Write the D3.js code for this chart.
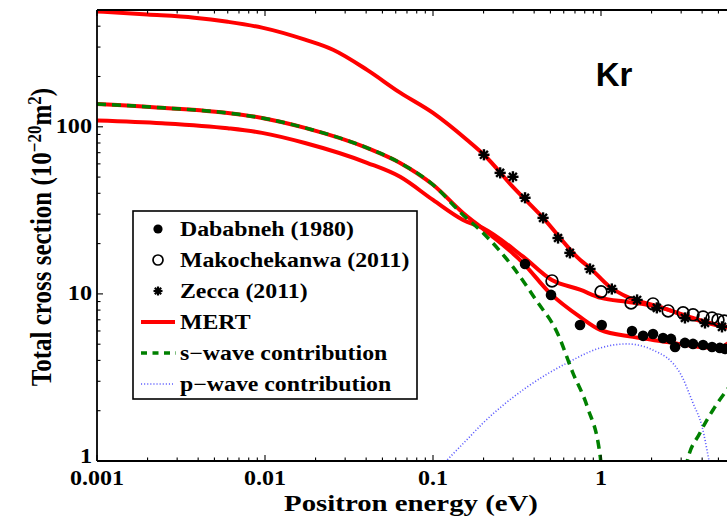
<!DOCTYPE html>
<html>
<head>
<meta charset="utf-8">
<script src="https://cdn.jsdelivr.net/npm/d3@7"></script>
<style>
  html, body { margin: 0; padding: 0; background: #fff; }
  svg { display: block; overflow: hidden; }
</style>
</head>
<body>
<svg id="chart" width="727" height="517"></svg>
<script>
// ---- Positron–Kr total cross sections (energy in eV, σ in 1e-20 m^2) ----

// Measurements
const dababnehE = [0.353, 0.504, 0.75, 1.01, 1.53, 1.78, 2.04, 2.34, 2.61, 2.76, 3.16, 3.53, 4.05, 4.58, 5.1, 5.45];
const dababnehS = [15.1, 9.86, 6.52, 6.52, 6.0, 5.61, 5.76, 5.45, 5.38, 4.81, 5.09, 5.02, 4.95, 4.81, 4.75, 4.69];

const makoE = [0.511, 1.0, 1.51, 2.04, 2.51, 3.08, 3.53, 4.05, 4.58, 4.97, 5.4];
const makoS = [11.96, 10.3, 8.83, 8.71, 7.91, 7.70, 7.49, 7.28, 7.18, 6.99, 6.89];

const zeccaE = [0.201, 0.251, 0.299, 0.353, 0.452, 0.555, 0.653, 0.86, 1.16, 1.64, 2.15, 3.16, 4.16, 5.25];
const zeccaS = [68, 53, 50.2, 37.6, 28.5, 21.6, 17.6, 14.1, 10.7, 9.2, 8.25, 7.18, 6.7, 6.35];

// MERT curves
const mertZeccaE = [0.001, 0.002, 0.0038, 0.006, 0.0096, 0.0173, 0.0254, 0.0405, 0.0637, 0.1, 0.159, 0.201, 0.299, 0.452, 0.75, 0.86, 1.13, 1.43, 2.24, 3.53, 5.62, 6.5];
const mertZeccaS = [490, 470, 450, 425, 392, 332, 289, 219, 160, 121, 83.6, 68, 43.7, 28.5, 16, 14.3, 11.0, 9.6, 8.36, 7.18, 6.35, 6.2];

const mertDababnehE = [0.001, 0.00244, 0.006, 0.0096, 0.0173, 0.0405, 0.0637, 0.1, 0.151, 0.209, 0.344, 0.497, 0.75, 0.99, 1.55, 2.47, 3.87, 5.1, 5.6, 6.0];
const mertDababnehS = [137, 130, 121, 113, 98.6, 74.8, 60.8, 45, 30.5, 23.5, 15.3, 10.1, 7.28, 6.09, 5.53, 5.16, 4.81, 4.72, 5.0, 5.3];

const mertMakoE = [0.001, 0.00244, 0.006, 0.0096, 0.0173, 0.0405, 0.0637, 0.1, 0.151, 0.198, 0.344, 0.51, 0.75, 1.0, 1.43, 1.88, 2.24, 3.53, 5.62, 6.5];
const mertMakoS = [109, 105, 98, 92, 80, 60.9, 50.2, 36.5, 27.7, 24.8, 16.7, 12.1, 10.6, 9.46, 8.96, 8.6, 8.3, 7.1, 6.3, 6.15];

// Partial-wave contributions
const sWaveE = [0.001, 0.00244, 0.006, 0.0096, 0.0173, 0.0405, 0.0637, 0.1, 0.151, 0.2, 0.299, 0.41, 0.55, 0.68, 0.83, 0.99, 1.03];
const sWaveS = [137, 130, 121, 113, 98.6, 74.8, 60.8, 45, 29.7, 23, 14.5, 9.2, 5.84, 3.37, 2.1, 1.06, 0.6];
const sWave2E = [3.1, 3.24, 3.88, 4.64, 5.62, 6.5];
const sWave2S = [0.6, 0.97, 1.47, 2.02, 2.66, 3.2];

const pWaveE = [0.108, 0.159, 0.199, 0.363, 0.628, 0.99, 1.43, 2.03, 2.95, 3.53, 4.0, 4.4, 4.6];
const pWaveS = [0.9, 1.34, 1.69, 2.77, 3.86, 4.75, 5.02, 4.62, 3.37, 2.22, 1.6, 1.0, 0.8];

const xTickLabels = ["0.001", "0.01", "0.1", "1"];
const yTickLabels = ["1", "10", "100"];

const legendLabels = ["Dababneh (1980)", "Makochekanwa (2011)", "Zecca (2011)", "MERT", "s\u2212wave contribution", "p\u2212wave contribution"];

// ---- Layout ----
const svg = d3.select("#chart");
const plotLeft = 97, plotTop = 10, plotBottom = 461, plotRight = 769;

const x = d3.scaleLog().domain([0.001, 10]).range([plotLeft, plotRight]);
const y = d3.scaleLog().domain([1, 500]).range([plotBottom, plotTop]);

const serif = "'Liberation Serif', 'Times New Roman', serif";
const RED = "#ff0000", GREEN = "#008000", BLUE = "#5c5cff";
const WIDEN = 1.15;   // text in this figure is set slightly wide

// Widen a text selection horizontally by factor k, keeping its anchor.
function widen(sel, k) {
  sel.each(function () {
    const w = this.getComputedTextLength();
    d3.select(this).attr("textLength", w * k).attr("lengthAdjust", "spacingAndGlyphs");
  });
  return sel;
}

svg.append("defs").append("clipPath").attr("id", "plotClip")
  .append("rect").attr("x", plotLeft).attr("y", plotTop)
  .attr("width", plotRight - plotLeft).attr("height", plotBottom - plotTop);

const plot = svg.append("g").attr("clip-path", "url(#plotClip)");

const zip = (E, S) => E.map((e, i) => [e, S[i]]);
const line = d3.line().x(d => x(d[0])).y(d => y(d[1])).curve(d3.curveMonotoneX);

// p-wave (dotted)
plot.append("path").datum(zip(pWaveE, pWaveS)).attr("d", line)
  .attr("fill", "none").attr("stroke", BLUE).attr("stroke-width", 1.6)
  .attr("stroke-dasharray", "1.1,2");

// MERT curves
[[mertZeccaE, mertZeccaS], [mertDababnehE, mertDababnehS], [mertMakoE, mertMakoS]].forEach(([E, S]) => {
  plot.append("path").datum(zip(E, S)).attr("d", line)
    .attr("fill", "none").attr("stroke", RED).attr("stroke-width", 4)
    .attr("stroke-linejoin", "round");
});

// s-wave (dashed), two branches either side of its zero
[[sWaveE, sWaveS], [sWave2E, sWave2S]].forEach(([E, S]) => {
  plot.append("path").datum(zip(E, S)).attr("d", line)
    .attr("fill", "none").attr("stroke", GREEN).attr("stroke-width", 3.5)
    .attr("stroke-dasharray", "9,6");
});

// Markers
function asterisk(g, cx, cy, r, w) {
  [0, 45, 90, 135].forEach(a => {
    const t = a * Math.PI / 180;
    g.append("line")
      .attr("x1", cx - r * Math.cos(t)).attr("y1", cy - r * Math.sin(t))
      .attr("x2", cx + r * Math.cos(t)).attr("y2", cy + r * Math.sin(t))
      .attr("stroke", "#000").attr("stroke-width", w);
  });
}

plot.append("g").selectAll("circle").data(zip(dababnehE, dababnehS)).join("circle")
  .attr("cx", d => x(d[0])).attr("cy", d => y(d[1])).attr("r", 5.3).attr("fill", "#000");

plot.append("g").selectAll("circle").data(zip(makoE, makoS)).join("circle")
  .attr("cx", d => x(d[0])).attr("cy", d => y(d[1])).attr("r", 5.9)
  .attr("fill", "none").attr("stroke", "#000").attr("stroke-width", 1.7);

const zg = plot.append("g");
zip(zeccaE, zeccaS).forEach(d => asterisk(zg, x(d[0]), y(d[1]), 5.6, 2.4));

// ---- Axes ----
const xTicks = [];
for (let p = -3; p <= 0; p++) for (let k = 1; k <= 9; k++) xTicks.push(k * Math.pow(10, p));
const yTicks = [];
for (let p = 0; p <= 2; p++) for (let k = 1; k <= 9; k++) { const v = k * Math.pow(10, p); if (v <= 500) yTicks.push(v); }

const isMajor = v => Math.abs(Math.log10(v) - Math.round(Math.log10(v))) < 1e-9;

const axes = svg.append("g").attr("stroke", "#000").attr("stroke-width", 1.8);
axes.append("line").attr("x1", plotLeft).attr("x2", plotRight).attr("y1", plotTop).attr("y2", plotTop);
axes.append("line").attr("x1", plotLeft).attr("x2", plotRight).attr("y1", plotBottom).attr("y2", plotBottom);
axes.append("line").attr("x1", plotLeft).attr("x2", plotLeft).attr("y1", plotTop).attr("y2", plotBottom);

const tickG = svg.append("g").attr("stroke", "#000").attr("stroke-width", 1.1);
xTicks.forEach(v => {
  const len = isMajor(v) ? 6 : 3.5, px = x(v);
  tickG.append("line").attr("x1", px).attr("x2", px).attr("y1", plotBottom).attr("y2", plotBottom - len);
  tickG.append("line").attr("x1", px).attr("x2", px).attr("y1", plotTop).attr("y2", plotTop + len);
});
yTicks.forEach(v => {
  const len = isMajor(v) ? 6 : 3.5, py = y(v);
  tickG.append("line").attr("x1", plotLeft).attr("x2", plotLeft + len).attr("y1", py).attr("y2", py);
});

// Tick labels
widen(svg.append("g").selectAll("text").data(xTickLabels).join("text")
  .attr("x", d => x(+d)).attr("y", 485)
  .attr("text-anchor", "middle").attr("font-family", serif).attr("font-weight", "bold")
  .attr("font-size", 20).text(d => d), 1.2);

// the lowest label sits a little higher so it clears the corner label below it
widen(svg.append("g").selectAll("text").data(yTickLabels).join("text")
  .attr("x", plotLeft - 5).attr("y", d => Math.min(y(+d) + 6, plotBottom + 1.5))
  .attr("text-anchor", "end").attr("font-family", serif).attr("font-weight", "bold")
  .attr("font-size", 21).text(d => d), WIDEN);

// Axis titles
widen(svg.append("text").attr("x", 411).attr("y", 511).attr("text-anchor", "middle")
  .attr("font-family", serif).attr("font-weight", "bold").attr("font-size", 24)
  .text("Positron energy (eV)"), 1.2);

const yl = svg.append("text")
  .attr("transform", `translate(51,237) scale(${WIDEN},1) rotate(-90)`)
  .attr("text-anchor", "middle").attr("font-family", serif).attr("font-weight", "bold")
  .attr("font-size", 25);
yl.append("tspan").text("Total cross section (10");
yl.append("tspan").attr("dy", -9).attr("font-size", 17).text("\u221220");
yl.append("tspan").attr("dy", 9).text("m");
yl.append("tspan").attr("dy", -9).attr("font-size", 17).text("2");
yl.append("tspan").attr("dy", 9).text(")");

// Element label
svg.append("text").attr("x", 614).attr("y", 86).attr("text-anchor", "middle")
  .attr("font-family", "'Liberation Sans', Arial, sans-serif").attr("font-weight", "bold")
  .attr("font-size", 33).text("Kr");

// ---- Legend ----
const lg = svg.append("g");
lg.append("rect").attr("x", 133).attr("y", 211).attr("width", 284).attr("height", 188)
  .attr("fill", "#fff").attr("stroke", "#000").attr("stroke-width", 1.6);

const rowY = i => 229 + i * 31;
const symX = 158;
lg.append("circle").attr("cx", symX).attr("cy", rowY(0)).attr("r", 4.6).attr("fill", "#000");
lg.append("circle").attr("cx", symX).attr("cy", rowY(1)).attr("r", 5)
  .attr("fill", "none").attr("stroke", "#000").attr("stroke-width", 1.7);
asterisk(lg, symX, rowY(2), 4.5, 2.2);
lg.append("line").attr("x1", 141).attr("x2", 175).attr("y1", rowY(3)).attr("y2", rowY(3))
  .attr("stroke", RED).attr("stroke-width", 4);
lg.append("line").attr("x1", 141).attr("x2", 176).attr("y1", rowY(4)).attr("y2", rowY(4))
  .attr("stroke", GREEN).attr("stroke-width", 3.5).attr("stroke-dasharray", "6,5.5");
lg.append("line").attr("x1", 141).attr("x2", 173).attr("y1", rowY(5)).attr("y2", rowY(5))
  .attr("stroke", BLUE).attr("stroke-width", 1.6).attr("stroke-dasharray", "1.1,2");

widen(lg.selectAll("text.lab").data(legendLabels).join("text").attr("class", "lab")
  .attr("x", 180).attr("y", (d, i) => rowY(i) + 7)
  .attr("font-family", serif).attr("font-weight", "bold").attr("font-size", 20)
  .text(d => d), 1.19);
</script>
</body>
</html>
